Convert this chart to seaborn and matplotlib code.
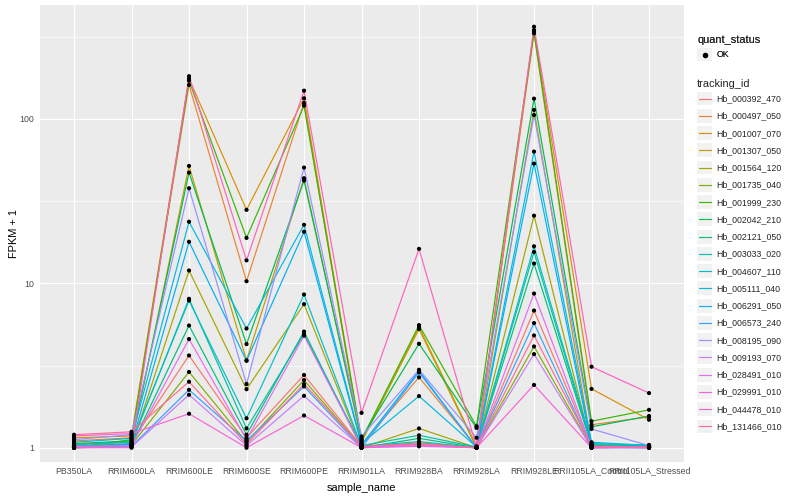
import numpy as np
import pandas as pd
import matplotlib
matplotlib.use("Agg")
import matplotlib.pyplot as plt
import seaborn as sns
from matplotlib.legend_handler import HandlerBase
from matplotlib.patches import Rectangle
from matplotlib.lines import Line2D

# sample order on the x axis
samples = ['PB350LA', 'RRIM600LA', 'RRIM600LE', 'RRIM600SE', 'RRIM600PE', 'RRIM901LA',
           'RRIM928BA', 'RRIM928LA', 'RRIM928LE', 'RRII105LA_Control', 'RRII105LA_Stressed']

tracking_ids = ['Hb_000392_470', 'Hb_000497_050', 'Hb_001007_070', 'Hb_001307_050',
                'Hb_001564_120', 'Hb_001735_040', 'Hb_001999_230', 'Hb_002042_210',
                'Hb_002121_050', 'Hb_003033_020', 'Hb_004607_110', 'Hb_005111_040',
                'Hb_006291_050', 'Hb_006573_240', 'Hb_008195_090', 'Hb_009193_070',
                'Hb_028491_010', 'Hb_029991_010', 'Hb_044478_010', 'Hb_131466_010']

# ggplot default hue palette for 20 levels
colors = ['#F8766D', '#EA8331', '#D89000', '#C09B00', '#A3A500', '#7CAE00', '#39B600',
          '#00BB4E', '#00BF7D', '#00C1A3', '#00BFC4', '#00BAE0', '#00B0F6', '#35A2FF',
          '#9590FF', '#C77CFF', '#E76BF3', '#FA62DB', '#FF62BC', '#FF6C91']

# FPKM + 1 per sample, one value per tracking_id (same order as tracking_ids)
pb350la = [1.05, 1.10, 1.15, 1.02, 1.00, 1.03, 1.00, 1.06, 1.00, 1.02,
           1.04, 1.08, 1.00, 1.01, 1.12, 1.00, 1.02, 1.18, 1.00, 1.20]
rrim600la = [1.08, 1.15, 1.18, 1.05, 1.02, 1.04, 1.12, 1.10, 1.03, 1.06,
             1.08, 1.14, 1.05, 1.02, 1.20, 1.01, 1.03, 1.22, 1.00, 1.25]
rrim600le = [3.64, 161, 176, 51.8, 11.97, 2.89, 171, 47.2, 5.54, 8.05,
             7.86, 23.7, 17.9, 2.25, 37.9, 2.10, 4.58, 1.61, 182, 2.52]
rrim600se = [1.15, 10.3, 28.0, 3.40, 2.27, 1.08, 18.9, 4.27, 1.20, 1.31,
             1.51, 5.31, 3.38, 1.10, 2.44, 1.03, 1.12, 1.00, 13.8, 1.05]
rrim600pe = [2.77, 125, 133.6, 43.6, 7.47, 2.58, 120.5, 42.2, 5.09, 4.91,
             8.55, 22.7, 20.6, 2.36, 50.6, 2.07, 4.80, 1.57, 148.6, 2.44]
rrim901la = [1.02, 1.05, 1.08, 1.10, 1.00, 1.01, 1.12, 1.14, 1.00, 1.03,
             1.02, 1.06, 1.04, 1.00, 1.17, 1.00, 1.01, 1.00, 1.63, 1.02]
rrim928ba = [1.05, 2.68, 5.42, 5.27, 1.31, 1.07, 5.57, 4.29, 1.14, 1.19,
             1.09, 2.06, 2.93, 2.87, 2.98, 1.02, 1.04, 1.03, 16.2, 1.06]
rrim928la = [1.00, 1.01, 1.02, 1.00, 1.00, 1.00, 1.35, 1.32, 1.00, 1.01,
             1.00, 1.01, 1.00, 1.00, 1.15, 1.00, 1.00, 1.00, 1.01, 1.00]
rrim928le = [6.83, 331.6, 347.6, 113.5, 25.8, 4.13, 339.6, 132.9, 13.2, 15.5,
             16.8, 63.3, 53.5, 5.73, 105.7, 3.71, 8.67, 2.41, 364, 4.82]
rrii105la_control = [1.02, 1.38, 2.28, 1.05, 1.01, 1.00, 1.45, 1.34, 1.03, 1.04,
                     1.06, 1.08, 1.02, 1.00, 1.30, 1.00, 1.01, 1.00, 3.11, 1.02]
rrii105la_stressed = [1.00, 1.54, 1.48, 1.02, 1.00, 1.01, 1.70, 1.56, 1.02, 1.03,
                      1.04, 1.03, 1.01, 1.00, 1.03, 1.00, 1.00, 1.01, 2.15, 1.01]

values = [pb350la, rrim600la, rrim600le, rrim600se, rrim600pe, rrim901la,
          rrim928ba, rrim928la, rrim928le, rrii105la_control, rrii105la_stressed]

# long table: one row per sample / tracking_id
rows = []
for i, sample in enumerate(samples):
    for gene, val in zip(tracking_ids, values[i]):
        rows.append({'sample_name': sample, 'pos': i, 'tracking_id': gene, 'fpkm1': val})
df = pd.DataFrame(rows)


class KeyHandler(HandlerBase):
    # ggplot style legend key: light grey square with the glyph on top
    def create_artists(self, legend, orig_handle, xdescent, ydescent, width, height, fontsize, trans):
        box = Rectangle((-xdescent, -ydescent + 0.6), width, height - 1.2,
                        facecolor='#F2F2F2', edgecolor='none', transform=trans)
        ymid = -ydescent + height / 2
        if orig_handle.get_linestyle() == 'None':
            glyph = Line2D([-xdescent + width / 2], [ymid], marker='o', markersize=orig_handle.get_markersize(),
                           color='black', linestyle='none', transform=trans)
        else:
            glyph = Line2D([-xdescent + 1.2, -xdescent + width - 1.2], [ymid, ymid],
                           color=orig_handle.get_color(), lw=orig_handle.get_linewidth(), transform=trans)
        return [box, glyph]


sns.set_theme(style='darkgrid', rc={'axes.facecolor': '#EBEBEB', 'grid.color': 'white'})
plt.rcParams['font.family'] = ['Liberation Sans', 'DejaVu Sans']

fig = plt.figure(figsize=(8, 5), dpi=100)
ax = fig.add_axes([0.0494, 0.0766, 0.805, 0.914])
ax.set_yscale('log')

sns.lineplot(data=df, x='pos', y='fpkm1', hue='tracking_id', hue_order=tracking_ids,
             palette=colors, estimator=None, linewidth=0.85, legend=False, ax=ax)
sns.scatterplot(data=df, x='pos', y='fpkm1', color='black', s=9, edgecolor='none',
                legend=False, ax=ax, zorder=3)

# axes, ticks and grid in ggplot grey theme
ax.set_xlim(-0.6, len(samples) - 0.4)
ax.set_ylim(10 ** -0.085, 10 ** 2.695)
ax.set_xticks(range(len(samples)))
ax.set_xticklabels(samples)
ax.set_yticks([1, 10, 100])
ax.set_yticklabels(['1', '10', '100'])
ax.set_yticks([10 ** 0.5, 10 ** 1.5, 10 ** 2.5], minor=True)
ax.yaxis.set_minor_formatter(matplotlib.ticker.NullFormatter())
ax.grid(which='major', color='white', linewidth=0.85)
ax.grid(which='minor', axis='y', color='white', linewidth=0.45)
ax.tick_params(axis='both', which='major', length=2, width=0.5, color='#333333',
               pad=1.6, labelsize=6.3, labelcolor='#4D4D4D')
ax.tick_params(axis='both', which='minor', length=0)
for s in ax.spines.values():
    s.set_visible(False)
ax.set_xlabel('sample_name', fontsize=7.9, labelpad=5.4, color='black')
ax.set_ylabel('FPKM + 1', fontsize=7.9, labelpad=0.3, color='black')

# legends: quant_status point key and tracking_id line keys
hmap = {Line2D: KeyHandler()}
leg_kw = dict(loc='upper left', frameon=False, fontsize=6.3, title_fontsize=7.9,
              alignment='left', borderpad=0, borderaxespad=0, handlelength=1.74,
              handleheight=2.35, handletextpad=0.47, labelspacing=0.2, handler_map=hmap)
point_handle = [Line2D([], [], marker='o', markersize=3, color='black', linestyle='None')]
leg1 = fig.legend(point_handle, ['OK'], title='quant_status',
                  bbox_to_anchor=(697 / 800, 1 - 35 / 500), **leg_kw)
line_handles = [Line2D([], [], color=c, lw=0.85) for c in colors]
leg2 = fig.legend(line_handles, tracking_ids, title='tracking_id',
                  bbox_to_anchor=(697 / 800, 1 - 79 / 500), **leg_kw)
fig.add_artist(leg1)

fig.savefig('out.png', dpi=100, facecolor='white')
